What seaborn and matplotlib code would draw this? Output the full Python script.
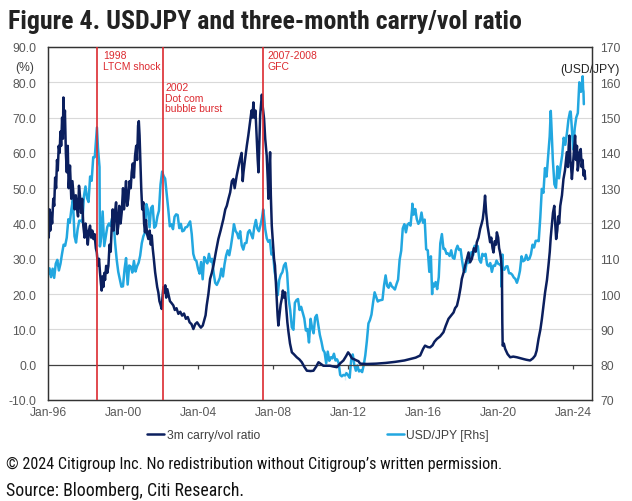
import numpy as np
import pandas as pd
import matplotlib
matplotlib.use("Agg")
import matplotlib.pyplot as plt
import matplotlib.dates as mdates
from matplotlib.ticker import FormatStrFormatter
import seaborn as sns
from datetime import datetime

# ---------------- data ----------------
# USD/JPY month-end levels, Jan-1996 .. Jun-2024
usdjpy_monthly = [
    107.3, 104.8, 107.2, 104.6, 108.6, 109.7, 106.7, 108.6, 111.4, 114.0, 113.7, 116.0,
    121.2, 120.2, 124.0, 126.7, 116.4, 114.6, 118.4, 120.8, 120.8, 120.4, 127.6, 130.5,
    127.2, 126.1, 133.3, 132.1, 138.8, 138.8, 144.7, 141.4, 136.0, 116.0, 123.4, 113.6,
    116.4, 119.0, 120.0, 119.3, 121.4, 120.7, 114.5, 109.7, 106.3, 104.1, 102.1, 102.2,
    107.1, 110.2, 102.7, 108.1, 107.8, 106.1, 109.4, 106.4, 107.9, 108.9, 110.9, 114.4,
    116.4, 117.3, 125.5, 123.8, 118.9, 124.4, 125.0, 118.8, 119.3, 122.0, 123.6, 131.0,
    134.7, 133.5, 132.7, 128.5, 124.0, 119.2, 119.8, 118.4, 121.9, 122.6, 122.4, 118.7,
    119.9, 117.8, 118.0, 118.9, 119.0, 119.8, 120.6, 117.0, 111.4, 109.8, 109.4, 107.2,
    105.8, 109.1, 104.2, 110.5, 109.4, 108.7, 111.4, 109.2, 110.0, 105.9, 103.2, 102.6,
    103.6, 104.6, 107.2, 105.0, 108.5, 110.9, 112.4, 111.0, 113.4, 116.4, 119.8, 117.9,
    117.2, 115.8, 117.8, 113.8, 112.6, 114.4, 114.5, 117.5, 118.1, 116.9, 115.8, 119.0,
    121.0, 118.6, 117.8, 119.5, 121.7, 123.2, 118.5, 115.8, 114.8, 115.3, 111.2, 111.7,
    106.4, 103.9, 99.7, 104.0, 105.5, 106.2, 108.1, 108.8, 106.0, 98.5, 95.4, 90.6,
    89.9, 97.5, 98.3, 98.6, 95.5, 96.4, 94.7, 93.1, 89.7, 90.1, 86.3, 93.0,
    90.3, 88.9, 93.4, 94.1, 91.3, 88.4, 86.5, 84.2, 83.5, 80.4, 83.7, 81.1,
    82.1, 81.8, 83.1, 81.2, 81.5, 80.5, 77.1, 76.7, 77.1, 78.1, 77.6, 77.0,
    76.3, 81.2, 82.9, 80.0, 78.3, 79.8, 78.1, 78.4, 77.9, 79.9, 82.6, 86.7,
    91.7, 92.6, 94.2, 97.5, 100.5, 99.2, 97.9, 98.2, 98.3, 98.4, 102.4, 105.3,
    102.3, 101.8, 103.2, 102.2, 101.8, 101.3, 102.8, 104.1, 109.7, 112.3, 118.6, 119.8,
    117.5, 119.6, 120.1, 119.4, 124.1, 122.5, 124.1, 121.2, 119.9, 120.6, 123.1, 120.2,
    121.1, 112.7, 112.4, 106.3, 110.7, 103.2, 102.1, 103.4, 101.4, 104.8, 114.4, 117.0,
    112.8, 112.8, 111.4, 111.5, 110.8, 112.4, 110.3, 110.0, 112.5, 113.7, 112.5, 112.7,
    109.2, 106.7, 106.3, 109.3, 108.8, 110.8, 111.9, 111.0, 113.7, 112.9, 113.6, 109.7,
    108.9, 111.4, 110.9, 111.4, 108.3, 107.9, 108.8, 106.3, 108.1, 108.0, 109.5, 108.6,
    108.4, 107.9, 107.5, 106.9, 107.8, 107.9, 105.9, 105.9, 105.5, 104.7, 104.3, 103.2,
    104.7, 106.6, 110.7, 109.3, 109.6, 111.1, 109.7, 110.0, 111.3, 114.0, 113.2, 115.1,
    115.1, 115.0, 121.7, 129.8, 128.7, 135.7, 133.3, 139.0, 144.7, 148.7, 138.1, 131.1,
    130.1, 136.2, 132.8, 136.3, 139.3, 144.3, 142.3, 145.5, 149.4, 151.7, 148.2, 141.0,
    147.0, 150.0, 151.3, 157.8, 157.3, 160.9,
]
# intra-month extremes of USD/JPY
usdjpy_extra_dates = ["1998-08-11", "1998-10-08", "2007-06-22", "2011-10-31", "2015-06-05",
                      "2016-06-24", "2020-03-09", "2020-03-24", "2022-10-21", "2023-11-13",
                      "2024-04-29", "2024-07-03", "2024-07-12", "2024-07-19", "2024-07-26"]
usdjpy_extra_values = [147.2, 113.5, 124.0, 75.8, 125.6, 100.0, 102.0, 111.2, 151.9, 151.7,
                       160.0, 161.7, 158.0, 157.4, 153.8]

# 3m carry/vol ratio (%), date as fractional year
carry_year = [
    1996.00, 1996.04, 1996.08, 1996.12, 1996.17, 1996.22, 1996.28, 1996.33, 1996.38, 1996.43,
    1996.48, 1996.52, 1996.57, 1996.62, 1996.66, 1996.70, 1996.75, 1996.79, 1996.82, 1996.86,
    1996.90, 1996.95, 1997.00, 1997.05, 1997.10, 1997.17, 1997.24, 1997.30, 1997.35, 1997.42,
    1997.48, 1997.53, 1997.60, 1997.65, 1997.70, 1997.76, 1997.82, 1997.88, 1997.95, 1998.00,
    1998.06, 1998.12, 1998.18, 1998.24, 1998.30, 1998.36, 1998.42, 1998.48, 1998.55, 1998.60,
    1998.66, 1998.72, 1998.77, 1998.82, 1998.86, 1998.90, 1998.95, 1999.00, 1999.04, 1999.10,
    1999.16, 1999.22, 1999.28, 1999.34, 1999.40, 1999.45, 1999.50, 1999.57, 1999.63, 1999.69,
    1999.75, 1999.80, 1999.87, 1999.93, 2000.00, 2000.05, 2000.10, 2000.16, 2000.22, 2000.28,
    2000.35, 2000.41, 2000.46, 2000.52, 2000.58, 2000.64, 2000.70, 2000.75, 2000.80, 2000.84,
    2000.88, 2000.92, 2000.97, 2001.02, 2001.08, 2001.12, 2001.17, 2001.22, 2001.28, 2001.35,
    2001.42, 2001.48, 2001.53, 2001.58, 2001.64, 2001.71, 2001.77, 2001.82, 2001.88, 2001.94,
    2002.00, 2002.06, 2002.10, 2002.15, 2002.20, 2002.25, 2002.30, 2002.36, 2002.42, 2002.50,
    2002.58, 2002.68, 2002.76, 2002.85, 2002.95, 2003.05, 2003.15, 2003.25, 2003.35, 2003.45,
    2003.55, 2003.65, 2003.75, 2003.85, 2003.95, 2004.05, 2004.15, 2004.25, 2004.32, 2004.40,
    2004.46, 2004.55, 2004.64, 2004.73, 2004.82, 2004.95, 2005.08, 2005.20, 2005.35, 2005.45,
    2005.53, 2005.62, 2005.71, 2005.80, 2005.88, 2005.95, 2006.06, 2006.15, 2006.24, 2006.32,
    2006.38, 2006.42, 2006.50, 2006.60, 2006.68, 2006.77, 2006.85, 2006.90, 2006.95, 2007.00,
    2007.06, 2007.13, 2007.18, 2007.22, 2007.26, 2007.31, 2007.36, 2007.40, 2007.45, 2007.52,
    2007.58, 2007.66, 2007.72, 2007.75, 2007.80, 2007.84, 2007.88, 2007.93, 2008.00, 2008.05,
    2008.10, 2008.18, 2008.24, 2008.28, 2008.34, 2008.40, 2008.46, 2008.52, 2008.58, 2008.64,
    2008.70, 2008.76, 2008.82, 2008.90, 2009.00, 2009.10, 2009.26, 2009.40, 2009.53, 2009.65,
    2009.80, 2010.00, 2010.15, 2010.30, 2010.42, 2010.55, 2010.68, 2010.85, 2011.04, 2011.20,
    2011.40, 2011.60, 2011.75, 2011.90, 2012.00, 2012.10, 2012.20, 2012.30, 2012.45, 2012.55,
    2012.64, 2013.00, 2013.50, 2014.00, 2014.50, 2015.00, 2015.30, 2015.60, 2015.84, 2016.00,
    2016.10, 2016.25, 2016.37, 2016.50, 2016.60, 2016.73, 2016.90, 2017.08, 2017.20, 2017.35,
    2017.50, 2017.62, 2017.70, 2017.80, 2017.90, 2018.00, 2018.06, 2018.15, 2018.24, 2018.33,
    2018.42, 2018.50, 2018.60, 2018.70, 2018.80, 2018.86, 2018.95, 2019.04, 2019.12, 2019.18,
    2019.24, 2019.30, 2019.36, 2019.43, 2019.50, 2019.57, 2019.63, 2019.70, 2019.75, 2019.82,
    2019.88, 2019.93, 2020.00, 2020.05, 2020.10, 2020.15, 2020.20, 2020.22, 2020.24, 2020.30,
    2020.37, 2020.50, 2020.64, 2020.80, 2021.00, 2021.20, 2021.35, 2021.50, 2021.70, 2021.85,
    2021.97, 2022.05, 2022.15, 2022.25, 2022.33, 2022.42, 2022.50, 2022.60, 2022.68, 2022.75,
    2022.80, 2022.86, 2022.92, 2022.99, 2023.04, 2023.09, 2023.15, 2023.20, 2023.25, 2023.31,
    2023.40, 2023.48, 2023.56, 2023.62, 2023.66, 2023.72, 2023.76, 2023.80, 2023.85, 2023.90,
    2023.93, 2023.98, 2024.03, 2024.10, 2024.15, 2024.20, 2024.24, 2024.28, 2024.33, 2024.40,
    2024.45, 2024.50, 2024.55, 2024.60, 2024.64,
]
carry_value = [
    42, 36, 44, 38, 43, 40, 47, 45, 53, 50,
    58, 55, 62, 60, 66, 62, 70, 64, 75.7, 68,
    72, 60, 54.5, 62, 50, 56.4, 47, 52, 48.8, 44,
    48, 45, 42, 50.7, 48, 43, 47, 39.4, 36, 40,
    37.5, 34, 38, 39.4, 36, 38, 35.6, 37, 33, 31.8,
    28, 30, 26.2, 23, 21, 25, 22, 26, 24, 28,
    26, 28, 34, 32, 39.4, 44, 38, 43.2, 46, 37,
    39.4, 45, 40, 43.2, 50, 44, 47.9, 52, 45, 47,
    52, 50, 54.5, 57, 53, 59.2, 62, 58, 67.7, 69,
    64.9, 58, 49.8, 44, 46, 40, 37.5, 41, 37, 35.6,
    38, 34, 36.6, 33, 30, 26.2, 24, 22, 20.5, 18,
    17, 15.8, 19, 22, 20.5, 22.5, 19, 21.4, 20, 18,
    17.5, 16.8, 15.5, 16, 14.4, 15, 13.9, 14.5, 13, 13.5,
    12, 11.5, 10.1, 11.5, 12, 11.2, 10.5, 11.1, 12.5, 14,
    16.8, 20, 24.3, 26, 28.1, 32, 35.6, 38, 41.3, 44,
    45, 47, 48.8, 52, 52.6, 50, 53.6, 56, 58.3, 60,
    52, 54.5, 58, 62.1, 65, 68.7, 72, 70, 74.3, 70,
    72, 64, 58, 54.5, 62, 70.6, 74, 76.5, 73, 69.6,
    64, 59.2, 52, 47, 55, 60.2, 48, 39.4, 34, 30,
    28.1, 20, 14, 11.1, 14, 17, 18.6, 21, 19, 20.5,
    16, 12, 9.2, 6, 3.5, 3, 2.1, 1.5, 0.7, -0.5,
    -1.7, -1.8, -1.7, -0.5, 0.7, 0.2, -0.3, -0.3, -0.3, -0.5,
    -0.7, 0.5, 1.2, 2.5, 3.5, 2.8, 1.8, 1.6, 1.2, 1.0,
    0.3, 0.2, 0.3, 0.5, 0.8, 1.2, 1.6, 2.0, 2.6, 4.5,
    5.4, 5.0, 4.9, 5.5, 6.5, 7.3, 8, 9.2, 11, 13,
    14, 14.8, 16, 16.7, 19, 22, 24.3, 26, 28.1, 30,
    31.8, 29, 30, 33, 32, 34.7, 36, 38.5, 40, 41.3,
    44, 47.9, 43, 39.4, 37, 34.7, 36, 33, 31.8, 35,
    34, 37.5, 36, 33, 31.8, 30, 26.2, 12, 5.4, 6,
    4.5, 3, 2.1, 2.3, 2.1, 1.8, 1.6, 1.4, 1.2, 1.8,
    2.6, 4, 7.3, 10, 13, 17, 20.5, 24, 28.1, 32,
    36, 39.4, 43, 45, 40, 35.6, 38, 42, 40, 45,
    48, 52.6, 55, 58, 60.2, 56, 62, 64.9, 58, 55,
    52.6, 56, 60, 64.9, 58, 62, 55, 56.4, 60, 61.1,
    56, 58, 53.6, 55, 52.6,
]

event_dates = ["1998-08-08", "2002-02-10", "2007-06-25"]
event_labels = ["1998\nLTCM shock", "2002\nDot com\nbubble burst", "2007-2008\nGFC"]
event_text_offsets = [(4.5, -2.5), (2.0, -25.0), (3.0, -2.5)]

x_tick_years = [1996, 2000, 2004, 2008, 2012, 2016, 2020, 2024]

title = "Figure 4. USDJPY and three-month carry/vol ratio"
footer1 = "\u00a9 2024 Citigroup Inc. No redistribution without Citigroup\u2019s written permission."
footer2 = "Source: Bloomberg, Citi Research."

# ---------------- frames ----------------
def frac_to_date(y):
    yr = int(np.floor(y))
    a = pd.Timestamp(datetime(yr, 1, 1))
    b = pd.Timestamp(datetime(yr + 1, 1, 1))
    return a + (b - a) * (y - yr)

fx_dates = list(pd.date_range("1996-01-31", periods=len(usdjpy_monthly), freq="ME"))
fx_dates = [pd.Timestamp("1996-01-02")] + fx_dates
fx_vals = [105.5] + usdjpy_monthly
fx = pd.DataFrame({"date": fx_dates + [pd.Timestamp(d) for d in usdjpy_extra_dates],
                   "usdjpy": fx_vals + usdjpy_extra_values}).sort_values("date")

carry = pd.DataFrame({"date": [frac_to_date(y) for y in carry_year], "ratio": carry_value})

# ---------------- style ----------------
sns.set_theme(style="white")
plt.rcParams["font.family"] = ["Liberation Sans", "DejaVu Sans"]
narrow = ["Roboto Condensed", "Liberation Sans Narrow", "Roboto", "DejaVu Sans"]

navy = "#0B1F5E"
light = "#22A7E0"
red = "#DC2A30"
tick_col = "#595959"

fig = plt.figure(figsize=(6.32, 5.02), dpi=100)
W, H = 632, 502
L, R, T, B = 48, 592, 48, 401
ax = fig.add_axes([L / W, 1 - B / H, (R - L) / W, (B - T) / H])
ax2 = ax.twinx()

sns.lineplot(data=fx, x="date", y="usdjpy", ax=ax2, color=light, lw=1.8, label="USD/JPY [Rhs]")
sns.lineplot(data=carry, x="date", y="ratio", ax=ax, color=navy, lw=1.8, label="3m carry/vol ratio")
h_navy = ax.lines[-1]
h_light = ax2.lines[-1]
for a in (ax, ax2):
    if a.get_legend() is not None:
        a.get_legend().remove()

ax.set_zorder(ax2.get_zorder() + 1)
ax.patch.set_visible(False)

ax.set_ylim(-10, 90)
ax2.set_ylim(70, 170)
ax.set_yticks(np.arange(-10, 91, 10))
ax2.set_yticks(np.arange(70, 171, 10))
ax.yaxis.set_major_formatter(FormatStrFormatter("%.1f"))
ax2.yaxis.set_major_formatter(FormatStrFormatter("%d"))
ax.set_xlim(pd.Timestamp("1996-01-01"), pd.Timestamp("2025-01-01"))
ax.set_xticks([pd.Timestamp(f"{y}-01-01") for y in x_tick_years])
ax.xaxis.set_major_formatter(mdates.DateFormatter("%b-%y"))
ax.set_xlabel("")
ax.set_ylabel("")
ax2.set_ylabel("")

ax.grid(False)
ax2.grid(False)
for yv in np.arange(-10, 91, 10):
    if -10 < yv < 90 and yv != 0:
        ax2.axhline(yv + 80, color="#D9D9D9", lw=0.8, zorder=0)
ax.axhline(0, color="#404040", lw=0.9, zorder=1)
ax.vlines([pd.Timestamp(f"{y}-01-01") for y in x_tick_years[1:]], -1.2, 0,
          color="#404040", lw=0.9, zorder=1)

ax.tick_params(axis="both", length=0, labelsize=8.7, labelcolor=tick_col)
ax.tick_params(axis="y", pad=8.5)
ax.tick_params(axis="x", pad=4.5)
ax2.tick_params(axis="y", length=0, labelsize=8.7, labelcolor=tick_col, pad=6)
for a in (ax, ax2):
    for s in a.spines.values():
        s.set_visible(True)
        s.set_color("#333333")
        s.set_linewidth(0.9)

for d, lab, off in zip(event_dates, event_labels, event_text_offsets):
    dt = pd.Timestamp(d)
    ax.axvline(dt, color=red, lw=1.2, zorder=6)
    ax.annotate(lab, xy=(dt, 1.0), xycoords=("data", "axes fraction"),
                xytext=off, textcoords="offset points", ha="left", va="top",
                color=red, fontsize=7.5, linespacing=1.1, zorder=7)

fig.text(25 / W, 1 - 68 / H, "(%)", ha="center", va="center", fontsize=8.7, color="#404040")
fig.text(590 / W, 1 - 70 / H, "(USD/JPY)", ha="center", va="center", fontsize=8.7, color="#262626")

fig.legend([h_navy, h_light], ["3m carry/vol ratio", "USD/JPY [Rhs]"],
           loc="center", bbox_to_anchor=(318 / W, 1 - 436 / H), ncol=2, frameon=False,
           fontsize=8.7, handlelength=1.4, handletextpad=0.2, columnspacing=10.5,
           labelcolor="#404040")

fig.text(8 / W, 1 - 29 / H, title, ha="left", va="baseline", fontsize=18.6,
         fontweight="bold", color="#222222", family=narrow)
fig.text(6 / W, 1 - 469 / H, footer1, ha="left", va="baseline", fontsize=11.6,
         color="#111111", family=narrow)
fig.text(6 / W, 1 - 496 / H, footer2, ha="left", va="baseline", fontsize=12.8,
         color="#111111", family=narrow)

fig.savefig("out.png", dpi=100)
